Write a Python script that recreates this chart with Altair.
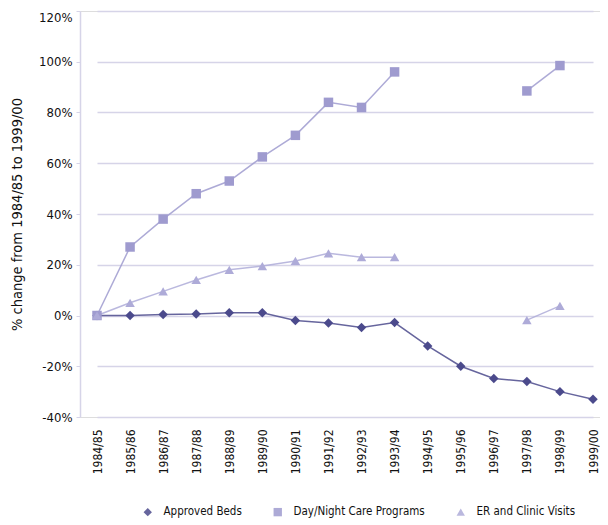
import altair as alt
import pandas as pd

years = ["1984/85", "1985/86", "1986/87", "1987/88", "1988/89", "1989/90",
         "1990/91", "1991/92", "1992/93", "1993/94", "1994/95", "1995/96",
         "1996/97", "1997/98", "1998/99", "1999/00"]
approved_beds = [0, 0, 0.4, 0.6, 1.1, 1.1, -2, -3, -4.7, -2.8, -12, -20,
                 -24.8, -26, -30, -33]
day_night = [0, 27, 38, 48, 53, 62.5, 71, 84, 82, 96, None, None, None,
             88.5, 98.5, None]
er_visits = [0, 5, 9.5, 14, 18, 19.5, 21.5, 24.5, 23, 23, None, None, None,
             -1.8, 3.8, None]

series_names = ["Approved Beds", "Day/Night Care Programs", "ER and Clinic Visits"]
series_vals = [approved_beds, day_night, er_visits]
colors = ["#4b4a8c", "#9f9bcf", "#aeabd8"]
shapes = ["diamond", "square", "triangle-up"]

rows = []
for name, vals in zip(series_names, series_vals):
    seg = 0
    prev_none = False
    for yr, v in zip(years, vals):
        if v is None:
            prev_none = True
            continue
        if prev_none:
            seg += 1
            prev_none = False
        rows.append({"year": yr, "series": name, "value": v / 100.0,
                     "seg": f"{name}-{seg}"})
df = pd.DataFrame(rows)

FONT = "DejaVu Sans Condensed, DejaVu Sans, sans-serif"

x = alt.X("year:N", sort=years, title=None,
          scale=alt.Scale(type="point", range=[17, 513], padding=0),
          axis=alt.Axis(labelAngle=-90, labelFont=FONT, labelFontSize=12,
                        labelColor="#111", ticks=False, domain=False,
                        grid=False, labelPadding=12))
y = alt.Y("value:Q", title="% change from 1984/85 to 1999/00",
          scale=alt.Scale(domain=[-0.4, 1.2], nice=False),
          axis=alt.Axis(format=".0%", values=[-0.4, -0.2, 0, 0.2, 0.4, 0.6, 0.8, 1.0, 1.2],
                        labelExpr="replace(datum.label, '\u2212', '-')",
                        labelBaseline={"condition": {"test": "datum.value >= 1.19", "value": "top"},
                                       "value": "middle"},
                        labelFont=FONT, labelFontSize=13, labelColor="#111",
                        titleFont=FONT, titleFontSize=14.5, titleFontWeight="normal",
                        titleColor="#111", titlePadding=14,
                        grid=True, gridColor="#d6d4e8", gridWidth=1.5,
                        domainColor="#d6d4e8", domainWidth=1.5,
                        tickColor="#d6d4e8", tickSize=4, labelPadding=4))

color = alt.Color("series:N", sort=series_names,
                  scale=alt.Scale(domain=series_names, range=colors),
                  legend=alt.Legend(orient="none", legendX=62, legendY=495,
                                    title=None, direction="horizontal",
                                    labelFont=FONT, labelFontSize=11.5, labelColor="#111",
                                    symbolSize=70, columnPadding=30, labelOffset=10,
                                    symbolStrokeWidth=0))
shape = alt.Shape("series:N", sort=series_names,
                  scale=alt.Scale(domain=series_names, range=shapes))

base = alt.Chart(df)
lines = base.mark_line(strokeWidth=1.5, opacity=0.85).encode(
    x=x, y=y, color=color, detail="seg:N")
points = base.mark_point(filled=True, size=90, opacity=1).encode(
    x=x, y=y, color=color, shape=shape)

chart = alt.layer(lines, points).properties(
    width=520, height=406,
    autosize=alt.AutoSizeParams(type="none"),
    padding={"left": 72, "top": 3, "right": 0, "bottom": 108},
).configure_view(stroke=None).configure(background="white")

chart.save("out.html", embed_options={"renderer": "svg", "actions": False})
